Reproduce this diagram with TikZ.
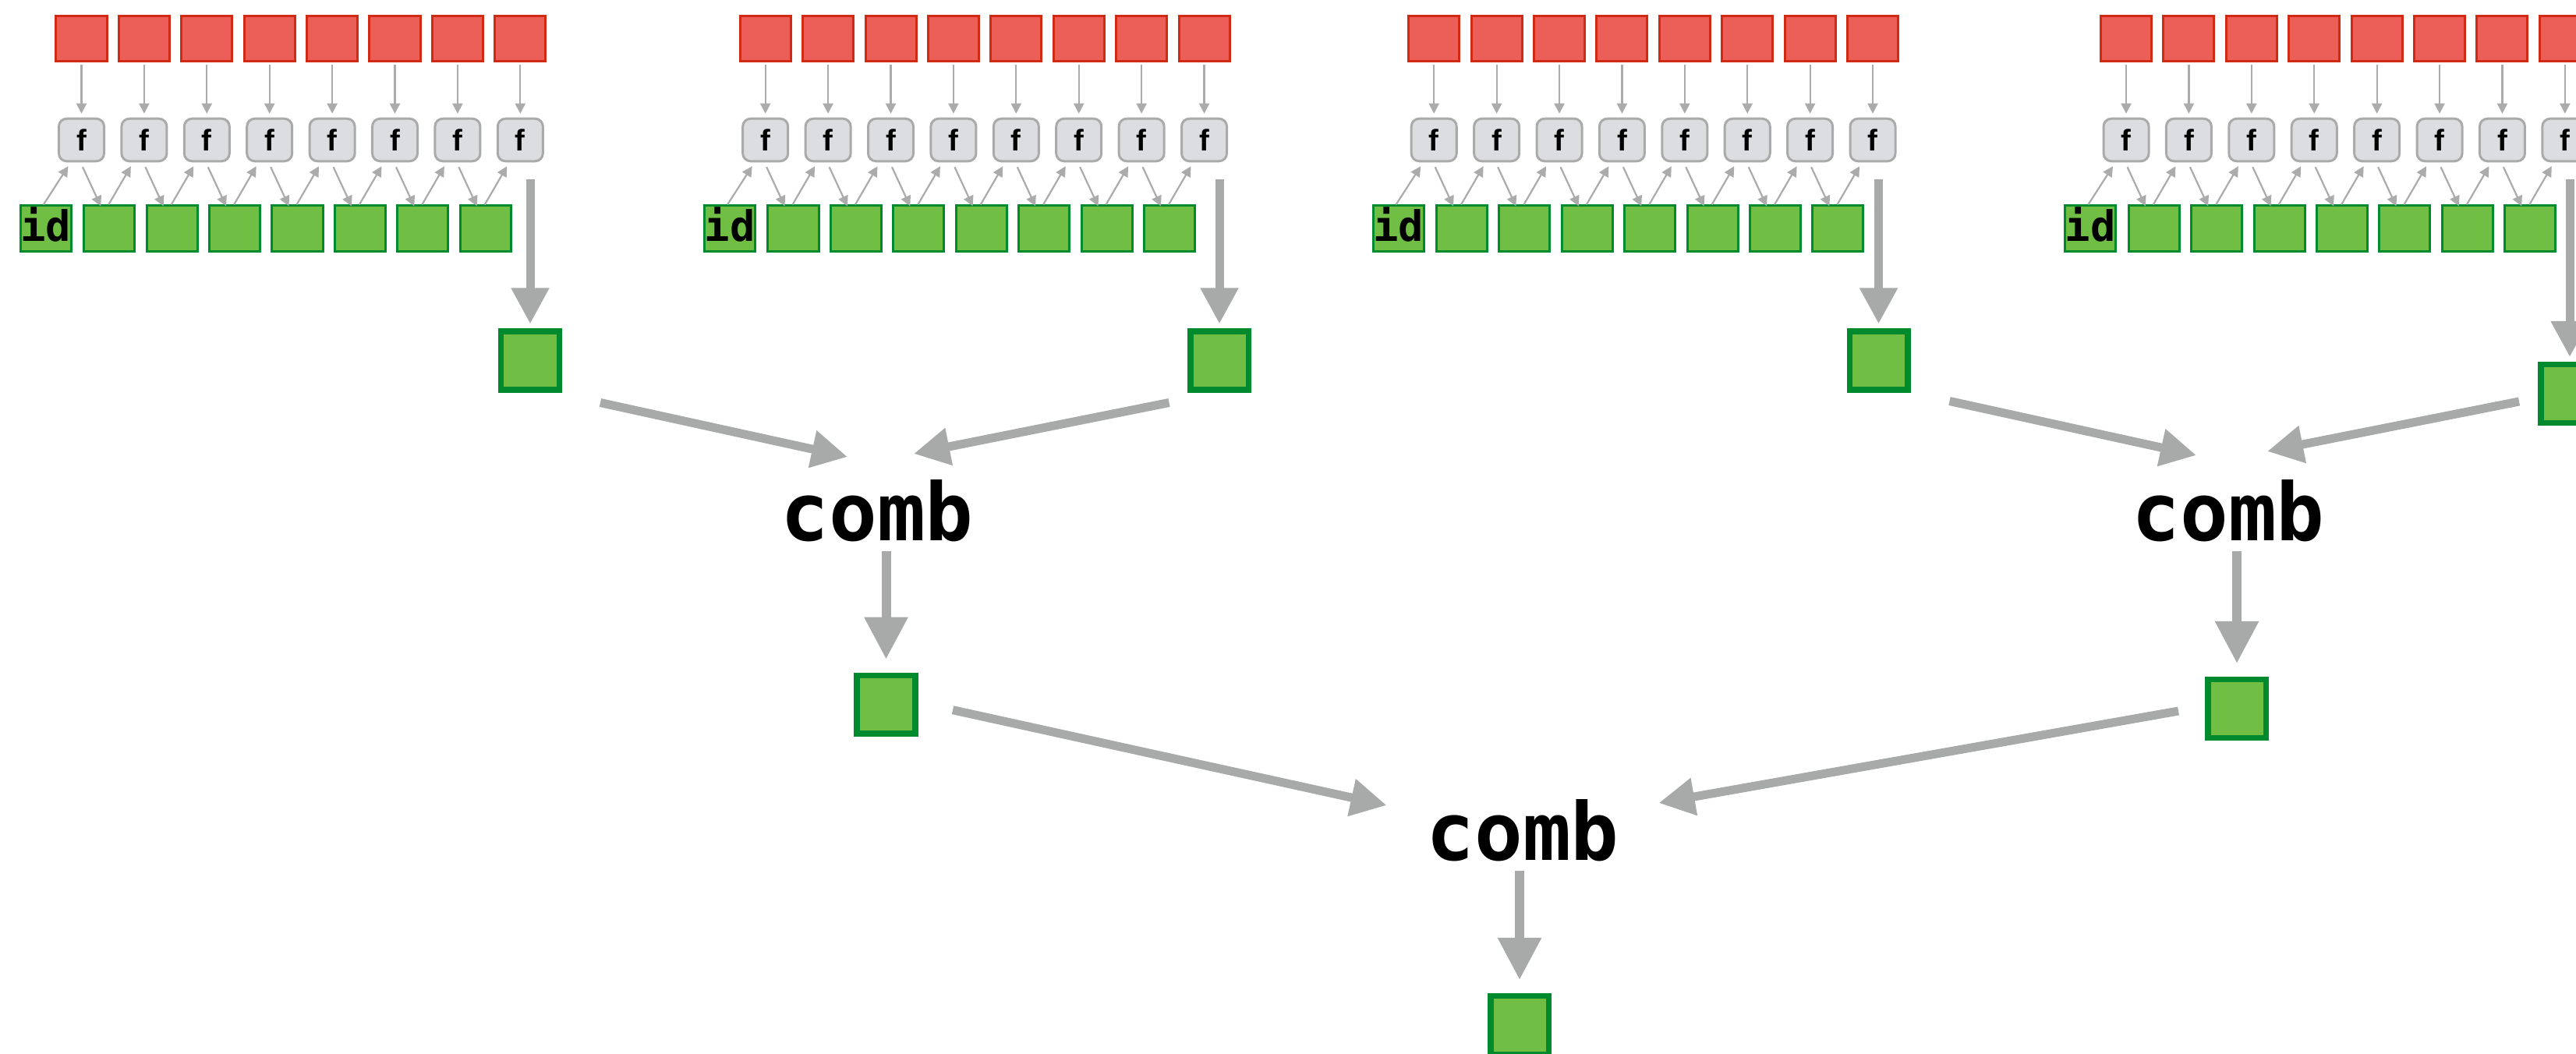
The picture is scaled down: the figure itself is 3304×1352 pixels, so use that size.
\documentclass[tikz,border=0pt]{standalone}
\usepackage{fontspec}
\newfontfamily\codefont{DejaVu Sans Mono}
\newfontfamily\ffont{Liberation Sans}
\usetikzlibrary{positioning,arrows.meta,calc}

\definecolor{boxred}{RGB}{236,94,88}
\definecolor{boxredline}{RGB}{208,42,20}
\definecolor{boxgreen}{RGB}{112,191,68}
\definecolor{boxgreenline}{RGB}{0,138,46}
\definecolor{fgray}{RGB}{220,221,224}
\definecolor{fgrayline}{RGB}{170,170,170}
\definecolor{thingray}{RGB}{171,171,171}
\definecolor{arrowgray}{RGB}{167,170,169}

\begin{document}
\begin{tikzpicture}[x=0.01cm, y=-0.01cm]
        \tikzstyle{every node}=[inner sep=0pt]
        \tikzstyle{inbox}=[draw=boxredline, fill=boxred, line width=0.03cm, minimum width=0.65cm, minimum height=0.58cm]
        \tikzstyle{accbox}=[draw=boxgreenline, fill=boxgreen, line width=0.03cm, minimum width=0.65cm, minimum height=0.58cm]
        \tikzstyle{fbox}=[draw=fgrayline, fill=fgray, line width=0.03cm, rounded corners=0.1cm, minimum width=0.58cm, minimum height=0.545cm, font=\ffont\bfseries\fontsize{10.9pt}{12pt}\selectfont]
        \tikzstyle{resbox}=[draw=boxgreenline, fill=boxgreen, line width=0.075cm, minimum size=0.745cm]
        \tikzstyle{combtext}=[inner sep=0.3333em, font=\codefont\bfseries\fontsize{29.2pt}{32pt}\selectfont]
        \tikzstyle{thinarrow}=[draw=thingray, line width=0.022cm, -{Triangle[length=0.13cm, width=0.13cm]}]
        \tikzstyle{bigarrow}=[draw=arrowgray, line width=0.11cm, -{Triangle[length=0.46cm, width=0.46cm]}]
        \tikzstyle{bigarrowlong}=[draw=arrowgray, line width=0.12cm, -{Triangle[length=0.54cm, width=0.53cm]}]

        \useasboundingbox (0,0) rectangle (3304,1352);

        % four scans, one per chunk
        \foreach \g/\fx/\ax/\ry in {1/104.5/680/462.5, 2/981.7/1564/462.5, 3/1839.2/2409.5/462.5, 4/2727/3296/505} {
            \node[accbox, text depth=0.1cm, font=\codefont\bfseries\fontsize{15.3pt}{16pt}\selectfont] (id\g) at (\fx-45.7,293) {id};
            \foreach \k in {1,...,8} {
                \node[inbox] (r\g-\k) at (\fx+\k*80.4-80.4,49.5) {};
                \node[fbox]  (f\g-\k) at (\fx+\k*80.4-80.4,179.5) {f};
                \draw[thinarrow, shorten <=0.03cm, shorten >=0.05cm] (r\g-\k) -- (f\g-\k);
            }
            \foreach \k in {1,...,7} {
                \node[accbox] (g\g-\k) at (\fx+\k*80.4-44.6,293) {};
            }
            \draw[thinarrow] ($(id\g.north)+(-3,0)$) -- ($(f\g-1.south)+(-17,5)$);
            \foreach \k [evaluate=\k as \n using int(\k+1)] in {1,...,7} {
                \draw[thinarrow] ($(f\g-\k.south)+(1.5,6)$) -- ($(g\g-\k.north)+(-11,2)$);
                \draw[thinarrow] ($(g\g-\k.north)+(-1,0)$) -- ($(f\g-\n.south)+(-17,5)$);
            }
            \coordinate (o\g) at (\ax,230);
            \node[resbox] (res\g) at (\ax,\ry) {};
            \draw[bigarrow, shorten >=0.06cm] (o\g) -- (res\g);
        }

        % combining tree
        \node[combtext, anchor=base] (comb1) at (1125,693) {comb};
        \node[combtext, anchor=base] (comb2) at (2858,693) {comb};
        \node[combtext, anchor=base] (comb3) at (1953,1103) {comb};
        \node[resbox] (res5) at (1136.5,903.7) {};
        \node[resbox] (res6) at (2869,909) {};
        \node[resbox] (res7) at (1949,1315) {};

        \coordinate (a1) at ($(res1)+(90,54)$);
        \coordinate (b1) at ($(comb1.base)+(-38,-107)$);
        \coordinate (a2) at ($(res2)+(-64.5,54)$);
        \coordinate (b2) at ($(comb1.base)+(47,-111)$);
        \coordinate (a3) at ($(res3)+(91,52)$);
        \coordinate (b3) at ($(comb2.base)+(-41,-109)$);
        \coordinate (a4) at ($(res4)+(-65,10)$);
        \coordinate (b4) at ($(comb2.base)+(50,-114)$);
        \coordinate (a5) at ($(res5)+(85.5,7)$);
        \coordinate (b5) at ($(comb3.base)+(-174.5,-70)$);
        \coordinate (a6) at ($(res6)+(-75,3)$);
        \coordinate (b6) at ($(comb3.base)+(174.5,-73)$);

        \foreach \i in {1,...,6} {
            \draw[bigarrow] (a\i) -- (b\i);
        }

        \draw[bigarrowlong, shorten >=0.17cm] (res5.north |- comb1.south) -- (res5);
        \draw[bigarrowlong, shorten >=0.17cm] (res6.north |- comb2.south) -- (res6);
        \draw[bigarrowlong, shorten >=0.17cm] (res7.north |- comb3.south) -- (res7);
    \end{tikzpicture}
\end{document}
